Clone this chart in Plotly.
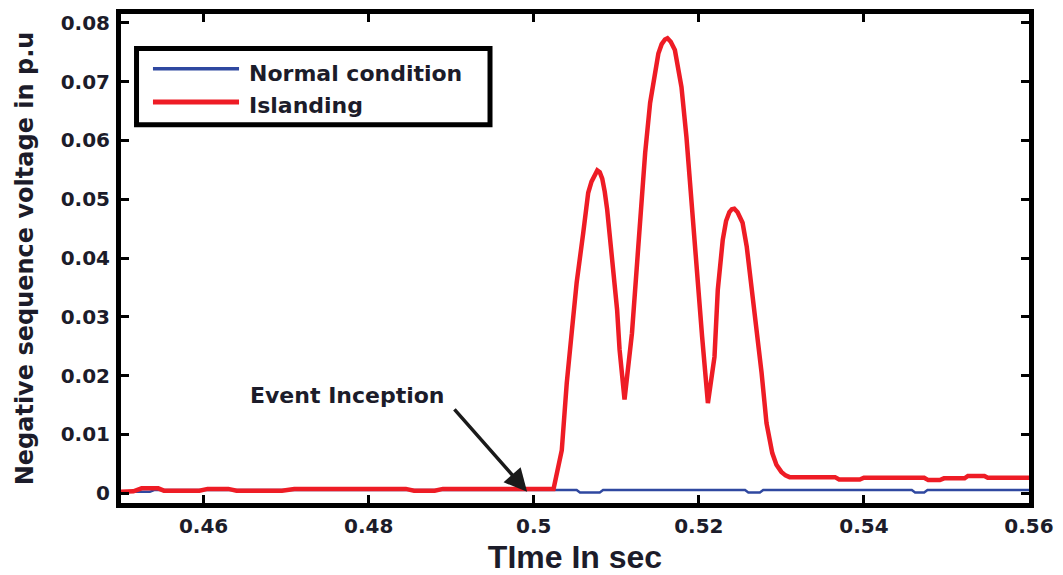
import plotly.graph_objects as go

# Time axis (s) and negative sequence voltage (p.u) for the islanding case
t_islanding = [
    0.4500, 0.4515, 0.4525, 0.4545, 0.4552, 0.4595, 0.4605, 0.4630, 0.4640,
    0.4695, 0.4710, 0.4845, 0.4855, 0.4880, 0.4890, 0.5000, 0.5024,
    0.5034, 0.5040, 0.5046, 0.5052, 0.5060, 0.5066, 0.5070, 0.5074, 0.5077,
    0.5080, 0.5083, 0.5086, 0.5089, 0.5095, 0.5101, 0.5104, 0.5110, 0.5119,
    0.5126, 0.5131, 0.5135, 0.5141, 0.5147, 0.5151, 0.5155, 0.5159, 0.5162,
    0.5166, 0.5171, 0.5175, 0.5179, 0.5185, 0.5191, 0.5198, 0.5204, 0.5211,
    0.5219, 0.5223, 0.5229, 0.5233, 0.5237, 0.5240, 0.5243, 0.5247, 0.5253,
    0.5258, 0.5262, 0.5270, 0.5276, 0.5282, 0.5289, 0.5294, 0.5300, 0.5305,
    0.5310, 0.5326, 0.5365, 0.5370, 0.5395, 0.5400, 0.5473, 0.5478, 0.5492,
    0.5497, 0.5522, 0.5526, 0.5546, 0.5550, 0.5600,
]
v_islanding = [
    0.0002, 0.0003, 0.0008, 0.0008, 0.0004, 0.0004, 0.0007, 0.0007, 0.0004,
    0.0004, 0.0007, 0.0007, 0.0004, 0.0004, 0.0007, 0.0007, 0.0007,
    0.0073, 0.0187, 0.0273, 0.0358, 0.0443, 0.0511, 0.0530, 0.0543, 0.0549,
    0.0546, 0.0535, 0.0513, 0.0482, 0.0397, 0.0312, 0.0244, 0.0159, 0.0272,
    0.0414, 0.0494, 0.0579, 0.0664, 0.0720, 0.0748, 0.0764, 0.0772, 0.0774,
    0.0768, 0.0754, 0.0727, 0.0691, 0.0606, 0.0494, 0.0380, 0.0266, 0.0153,
    0.0232, 0.0346, 0.0431, 0.0463, 0.0478, 0.0483, 0.0484, 0.0478, 0.0460,
    0.0420, 0.0375, 0.0278, 0.0205, 0.0119, 0.0068, 0.0048, 0.0036, 0.0030,
    0.0027, 0.0027, 0.0027, 0.0023, 0.0023, 0.0026, 0.0026, 0.0022, 0.0022,
    0.0025, 0.0025, 0.0029, 0.0029, 0.0026, 0.0026,
]

# Normal operating condition
t_normal = [
    0.4500, 0.4535, 0.4540, 0.5052, 0.5056, 0.5080, 0.5084, 0.5256, 0.5260,
    0.5274, 0.5278, 0.5458, 0.5462, 0.5473, 0.5477, 0.5600,
]
v_normal = [
    0.0002, 0.0002, 0.0005, 0.0005, 0.0001, 0.0001, 0.0005, 0.0005, 0.0001,
    0.0001, 0.0005, 0.0005, 0.0001, 0.0001, 0.0005, 0.0005,
]

x_ticks = [0.46, 0.48, 0.50, 0.52, 0.54, 0.56]
x_ticktext = ["0.46", "0.48", "0.5", "0.52", "0.54", "0.56"]
y_ticks = [0, 0.01, 0.02, 0.03, 0.04, 0.05, 0.06, 0.07, 0.08]
y_ticktext = ["0", "0.01", "0.02", "0.03", "0.04", "0.05", "0.06", "0.07", "0.08"]

series_names = ["Normal condition", "Islanding"]
BLUE = "#2f48a0"
RED = "#ee1c25"
TEXT = "#1c1c2a"
TICK_FONT = dict(family="DejaVu Sans", size=20, color=TEXT, weight="bold")

fig = go.Figure()
fig.add_trace(go.Scatter(x=t_normal, y=v_normal, mode="lines", name=series_names[0],
                         line=dict(color=BLUE, width=2.5)))
fig.add_trace(go.Scatter(x=t_islanding, y=v_islanding, mode="lines", name=series_names[1],
                         line=dict(color=RED, width=4.5)))

axis_common = dict(
    showline=True, linewidth=5, linecolor="black", mirror="ticks",
    ticks="inside", ticklen=8, tickwidth=3, tickcolor="black",
    showgrid=False, zeroline=False, tickfont=TICK_FONT, automargin=False,
)
fig.update_xaxes(range=[0.45, 0.56], tickvals=x_ticks, ticktext=x_ticktext,
                 ticklabelstandoff=1,
                 title=dict(text="TIme In sec", standoff=14,
                            font=dict(family="Liberation Sans", size=32, color=TEXT, weight="bold")),
                 **axis_common)
fig.update_yaxes(range=[-0.0017, 0.08153], tickvals=y_ticks, ticktext=y_ticktext,
                 ticklabelstandoff=2,
                 title=dict(text="Negative sequence voltage in p.u", standoff=22,
                            font=dict(family="DejaVu Sans", size=24, color=TEXT, weight="bold")),
                 **axis_common)

# Legend box with long line samples
shapes = [
    dict(type="rect", xref="paper", yref="paper", x0=0.0171, x1=0.4064, y0=0.7733, y1=0.9295,
         line=dict(color="black", width=5), fillcolor="white", layer="above"),
    dict(type="line", xref="paper", yref="paper", x0=0.0352, x1=0.1300, y0=0.8880, y1=0.8880,
         line=dict(color=BLUE, width=3.5), layer="above"),
    dict(type="line", xref="paper", yref="paper", x0=0.0352, x1=0.1300, y0=0.8198, y1=0.8198,
         line=dict(color=RED, width=5), layer="above"),
]
legend_font = dict(family="DejaVu Sans", size=22, color=TEXT, weight="bold")
annotations = [
    dict(xref="paper", yref="paper", x=0.1388, y=0.8784, xanchor="left", yanchor="middle",
         text=series_names[0], showarrow=False, font=legend_font),
    dict(xref="paper", yref="paper", x=0.1388, y=0.8131, xanchor="left", yanchor="middle",
         text=series_names[1], showarrow=False, font=legend_font),
    dict(xref="paper", yref="paper", x=0.1399, y=0.2206, xanchor="left", yanchor="middle",
         text="Event Inception", showarrow=False, font=legend_font),
    dict(xref="x", yref="y", x=0.4992, y=0.0002, text="", showarrow=True,
         ax=-74, ay=-84, arrowhead=2, arrowsize=1.3, arrowwidth=3.5, arrowcolor="#1a1a1a"),
]

fig.update_layout(
    width=1063, height=575,
    margin=dict(l=121, r=34, t=13.5, b=72),
    paper_bgcolor="white", plot_bgcolor="white",
    showlegend=False,
    shapes=shapes, annotations=annotations,
)

fig.write_html("out.html")
